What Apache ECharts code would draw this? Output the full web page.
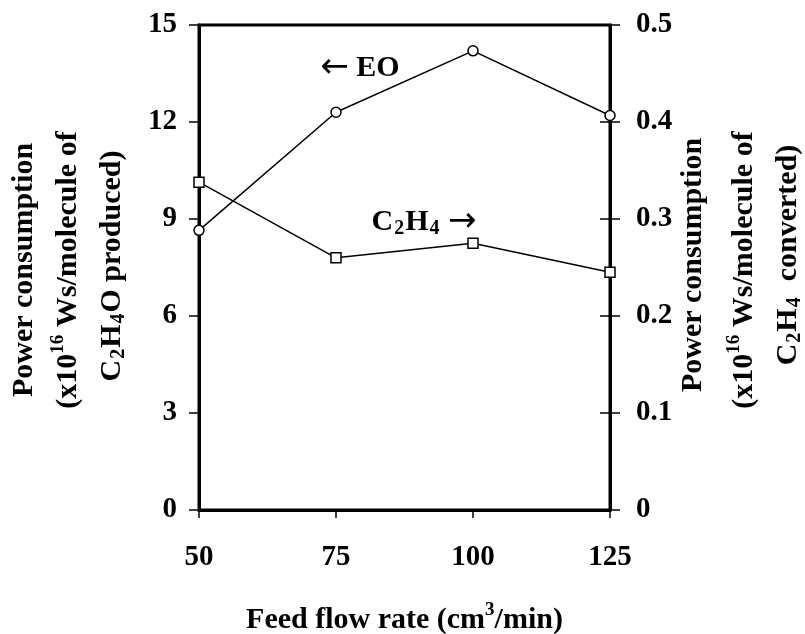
<!DOCTYPE html>
<html>
<head>
<meta charset="utf-8">
<script src="https://cdn.jsdelivr.net/npm/echarts@6/dist/echarts.min.js"></script>
<style>
  html, body { margin: 0; padding: 0; background: #fff; }
  #chart { width: 805px; height: 634px; }
</style>
</head>
<body>
<div id="chart"></div>
<script>
// Feed flow rate (cm3/min)
const flowRates = [50, 75, 100, 125];
// Power consumption per molecule of C2H4O produced (x10^16 Ws), left axis
const eoPower = [8.65, 12.3, 14.2, 12.2];
// Power consumption per molecule of C2H4 converted (x10^16 Ws), right axis
const ethylenePower = [0.338, 0.26, 0.275, 0.245];

const leftTicks = [0, 3, 6, 9, 12, 15];
const rightTicks = [0, 0.1, 0.2, 0.3, 0.4, 0.5];
const xTicks = [50, 75, 100, 125];

const FONT = '"Liberation Serif", "Times New Roman", serif';
const tickFont = { fontFamily: FONT, fontWeight: 'bold', fontSize: 29, color: '#000' };

const rich = {
  t: { fontFamily: FONT, fontWeight: 'bold', fontSize: 30, lineHeight: 40, verticalAlign: 'middle', fill: '#000', color: '#000' },
  sup: { fontFamily: FONT, fontWeight: 'bold', fontSize: 19, lineHeight: 40, verticalAlign: 'top', fill: '#000', color: '#000', padding: [1, 0, 0, 0] },
  sub: { fontFamily: FONT, fontWeight: 'bold', fontSize: 20, lineHeight: 40, verticalAlign: 'bottom', fill: '#000', color: '#000', padding: [0, 1, 3, 1] },
  arr: { fontFamily: '"DejaVu Sans"', fontSize: 34, lineHeight: 40, verticalAlign: 'middle', fill: '#000', color: '#000' }
};

const chart = echarts.init(document.getElementById('chart'), null, { renderer: 'canvas' });

function titleLine(x, y, text) {
  return {
    type: 'text', x: x, y: y, rotation: Math.PI / 2,
    style: { text: text, rich: rich, align: 'center', verticalAlign: 'middle', fill: '#000',
             fontFamily: FONT, fontWeight: 'bold', fontSize: 30 }
  };
}

chart.setOption({
  animation: false,
  backgroundColor: '#fff',
  grid: {
    left: 199, right: 195, top: 25, bottom: 124,
    outerBoundsMode: 'none', containLabel: false,
    show: true, borderColor: '#000', borderWidth: 3, backgroundColor: 'transparent'
  },
  xAxis: {
    type: 'value', min: xTicks[0], max: xTicks[xTicks.length - 1], interval: 25,
    axisLine: { show: true, lineStyle: { color: '#000', width: 3 } },
    axisTick: { show: true, length: 8, lineStyle: { color: '#000', width: 1.5 } },
    axisLabel: Object.assign({ margin: 33 }, tickFont),
    splitLine: { show: false },
    name: '{t|Feed flow rate (cm}{sup|3}{t|/min)}',
    nameLocation: 'middle', nameGap: 90,
    nameTextStyle: Object.assign({ rich: rich }, tickFont, { fontSize: 30 })
  },
  yAxis: [
    {
      type: 'value', position: 'left', min: leftTicks[0], max: leftTicks[leftTicks.length - 1], interval: 3,
      axisLine: { show: true, lineStyle: { color: '#000', width: 3 } },
      axisTick: { show: true, length: 10, lineStyle: { color: '#000', width: 1.5 } },
      axisLabel: Object.assign({ margin: 22 }, tickFont),
      splitLine: { show: false }
    },
    {
      type: 'value', position: 'right', min: rightTicks[0], max: rightTicks[rightTicks.length - 1], interval: 0.1,
      axisLine: { show: true, lineStyle: { color: '#000', width: 3 } },
      axisTick: { show: true, length: 10, lineStyle: { color: '#000', width: 1.5 } },
      axisLabel: Object.assign({ margin: 26, formatter: v => v === 0 ? '0' : v.toFixed(1) }, tickFont),
      splitLine: { show: false }
    },
    {
      // inward half of the crossing ticks on the right axis
      type: 'value', position: 'right', min: rightTicks[0], max: rightTicks[rightTicks.length - 1], interval: 0.1,
      axisLine: { show: false },
      axisTick: { show: true, inside: true, length: 10, lineStyle: { color: '#000', width: 1.5 } },
      axisLabel: { show: false },
      splitLine: { show: false }
    }
  ],
  series: [
    {
      name: 'EO', type: 'line', yAxisIndex: 0,
      data: flowRates.map((x, i) => [x, eoPower[i]]),
      symbol: 'circle', symbolSize: 10,
      lineStyle: { color: '#000', width: 1.5 },
      itemStyle: { color: '#fff', borderColor: '#000', borderWidth: 1.5 },
      z: 3
    },
    {
      name: 'C2H4', type: 'line', yAxisIndex: 1,
      data: flowRates.map((x, i) => [x, ethylenePower[i]]),
      symbol: 'rect', symbolSize: 10,
      lineStyle: { color: '#000', width: 1.5 },
      itemStyle: { color: '#fff', borderColor: '#000', borderWidth: 1.5 },
      z: 3
    }
  ],
  graphic: [
    titleLine(24, 270, '{t|Power consumption}'),
    titleLine(68, 270, '{t|(x10}{sup|16}{t| Ws/molecule of}'),
    titleLine(112, 266, '{t|C}{sub|2}{t|H}{sub|4}{t|O produced)}'),
    titleLine(693, 265, '{t|Power consumption}'),
    titleLine(744, 270, '{t|(x10}{sup|16}{t| Ws/molecule of}'),
    titleLine(788, 255, '{t|C}{sub|2}{t|H}{sub|4}{t|  converted)}'),
    {
      type: 'text', x: 360, y: 68,
      style: { text: '{arr|\u2190}{t| EO}', rich: rich, align: 'center', verticalAlign: 'middle', fill: '#000' }
    },
    {
      type: 'text', x: 424, y: 222,
      style: { text: '{t|C}{sub|2}{t|H}{sub|4}{t| }{arr|\u2192}', rich: rich, align: 'center', verticalAlign: 'middle', fill: '#000' }
    }
  ]
});
</script>
</body>
</html>
